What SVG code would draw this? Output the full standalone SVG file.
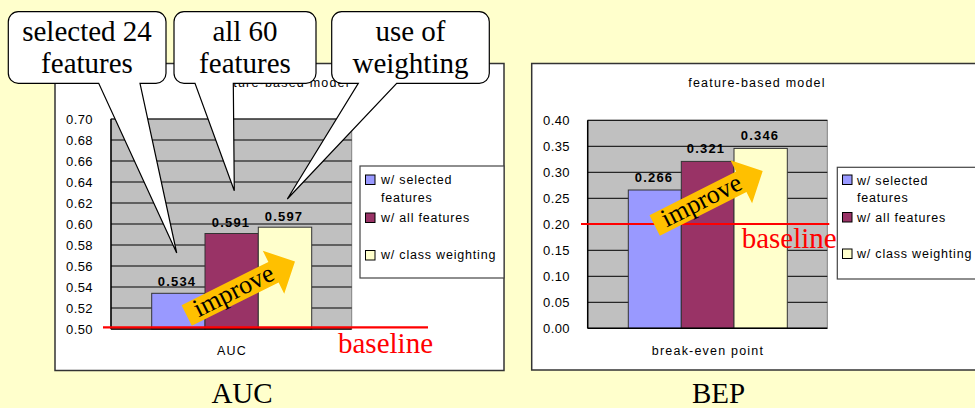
<svg xmlns="http://www.w3.org/2000/svg" width="975" height="408" viewBox="0 0 975 408">
<defs>
<style>
.frame{fill:#fff;stroke:#333;stroke-width:1.5}
.plot{fill:#c0c0c0;stroke:#808080;stroke-width:1}
.grid{stroke:#000;stroke-width:1}
.axis{stroke:#000;stroke-width:1.5}
.bar{stroke:#333;stroke-width:1}
.b1{fill:#9999ff}.b2{fill:#993366}.b3{fill:#ffffcc}
.tick{font-family:"Liberation Sans",Arial,sans-serif;font-size:13px;letter-spacing:0.4px;fill:#000;text-anchor:end}
.val{font-family:"Liberation Sans",Arial,sans-serif;font-size:13px;font-weight:bold;letter-spacing:1.2px;fill:#000;text-anchor:middle}
.lbl{font-family:"Liberation Sans",Arial,sans-serif;font-size:12.5px;letter-spacing:1.2px;fill:#000;text-anchor:middle}
.leg{font-family:"Liberation Sans",Arial,sans-serif;font-size:12.5px;letter-spacing:0.8px;fill:#000}
.legbox{fill:#fff;stroke:#444;stroke-width:1.2}
.sw{stroke:#000;stroke-width:1}
.base{stroke:#ff0000;stroke-width:2.2}
.basetxt{font-family:"Liberation Serif","Times New Roman",serif;font-size:29px;fill:#ff0000}
.big{font-family:"Liberation Serif","Times New Roman",serif;font-size:29px;fill:#000;text-anchor:middle}
.callout{fill:#fff;stroke:#000;stroke-width:1.2}
.arrow{fill:#ffc000}
.imp{font-family:"Liberation Serif","Times New Roman",serif;font-size:26px;fill:#000;text-anchor:middle}
</style>
<path id="arrowShape" d="M0,-11.5 L97,-11.5 L97,-24 L121,0 L97,24 L97,11.5 L0,11.5 Z"/>
</defs>
<rect x="0" y="0" width="975" height="408" fill="#ffffcc"/>

<g id="auc-chart">
<rect class="frame" x="55" y="63.5" width="449" height="307"/>
<text class="lbl" x="281" y="87">feature-based model</text>
<rect class="plot" x="111" y="119" width="240.7" height="210"/>
<g class="grid">
<line x1="111" y1="308" x2="351.7" y2="308"/><line x1="111" y1="287" x2="351.7" y2="287"/>
<line x1="111" y1="266" x2="351.7" y2="266"/><line x1="111" y1="245" x2="351.7" y2="245"/>
<line x1="111" y1="224" x2="351.7" y2="224"/><line x1="111" y1="203" x2="351.7" y2="203"/>
<line x1="111" y1="182" x2="351.7" y2="182"/><line x1="111" y1="161" x2="351.7" y2="161"/>
<line x1="111" y1="140" x2="351.7" y2="140"/><line x1="111" y1="119" x2="351.7" y2="119"/>
</g>
<rect class="bar b1" x="151.7" y="293.3" width="53.3" height="35.7"/>
<rect class="bar b2" x="205" y="233.5" width="53.3" height="95.5"/>
<rect class="bar b3" x="258.3" y="227.2" width="53.4" height="101.8"/>
<line class="axis" x1="111" y1="119" x2="111" y2="329"/>
<line class="axis" x1="111" y1="329" x2="351.7" y2="329"/>
<g>
<text class="tick" x="93" y="333.5">0.50</text><text class="tick" x="93" y="312.5">0.52</text>
<text class="tick" x="93" y="291.5">0.54</text><text class="tick" x="93" y="270.5">0.56</text>
<text class="tick" x="93" y="249.5">0.58</text><text class="tick" x="93" y="228.5">0.60</text>
<text class="tick" x="93" y="207.5">0.62</text><text class="tick" x="93" y="186.5">0.64</text>
<text class="tick" x="93" y="165.5">0.66</text><text class="tick" x="93" y="144.5">0.68</text>
<text class="tick" x="93" y="123.5">0.70</text>
</g>
<text class="val" x="177" y="286">0.534</text>
<text class="val" x="231" y="227">0.591</text>
<text class="val" x="284" y="221">0.597</text>
<text class="lbl" x="232" y="354.5">AUC</text>
<g id="auc-legend">
<rect class="legbox" x="360" y="166" width="144" height="112"/>
<rect class="sw b1" x="365.5" y="175" width="9.5" height="9.5"/>
<text class="leg" x="381" y="184">w/ selected</text>
<text class="leg" x="381" y="201.5">features</text>
<rect class="sw b2" x="365.5" y="213" width="9.5" height="9.5"/>
<text class="leg" x="381" y="221.5">w/ all features</text>
<rect class="sw b3" x="365.5" y="250.5" width="9.5" height="9.5"/>
<text class="leg" x="381" y="259">w/ class weighting</text>
</g>
<line class="base" x1="103" y1="327.3" x2="428" y2="327.3"/>
<text class="basetxt" x="338" y="353">baseline</text>
<text class="big" x="242" y="403">AUC</text>
</g>

<g id="bep-chart">
<rect class="frame" x="531.7" y="63.5" width="460" height="306.5"/>
<text class="lbl" x="757" y="87">feature-based model</text>
<rect class="plot" x="587.7" y="120.3" width="239.6" height="208"/>
<g class="grid">
<line x1="587.7" y1="302.3" x2="827.3" y2="302.3"/><line x1="587.7" y1="276.3" x2="827.3" y2="276.3"/>
<line x1="587.7" y1="250.3" x2="827.3" y2="250.3"/><line x1="587.7" y1="224.3" x2="827.3" y2="224.3"/>
<line x1="587.7" y1="198.3" x2="827.3" y2="198.3"/><line x1="587.7" y1="172.3" x2="827.3" y2="172.3"/>
<line x1="587.7" y1="146.3" x2="827.3" y2="146.3"/><line x1="587.7" y1="120.3" x2="827.3" y2="120.3"/>
</g>
<rect class="bar b1" x="628.3" y="190" width="53" height="138.3"/>
<rect class="bar b2" x="681.3" y="161.4" width="52.7" height="166.9"/>
<rect class="bar b3" x="734" y="148.4" width="53.3" height="179.9"/>
<line class="axis" x1="587.7" y1="120.3" x2="587.7" y2="328.3"/>
<line class="axis" x1="587.7" y1="328.3" x2="827.3" y2="328.3"/>
<g>
<text class="tick" x="570" y="332.8">0.00</text><text class="tick" x="570" y="306.8">0.05</text>
<text class="tick" x="570" y="280.8">0.10</text><text class="tick" x="570" y="254.8">0.15</text>
<text class="tick" x="570" y="228.8">0.20</text><text class="tick" x="570" y="202.8">0.25</text>
<text class="tick" x="570" y="176.8">0.30</text><text class="tick" x="570" y="150.8">0.35</text>
<text class="tick" x="570" y="124.8">0.40</text>
</g>
<text class="val" x="654" y="182">0.266</text>
<text class="val" x="706" y="153">0.321</text>
<text class="val" x="760" y="139.5">0.346</text>
<text class="lbl" x="708" y="354.5">break-even point</text>
<g id="bep-legend">
<rect class="legbox" x="837.3" y="167.3" width="160" height="111.7"/>
<rect class="sw b1" x="842.5" y="175" width="9.5" height="9.5"/>
<text class="leg" x="857" y="184.5">w/ selected</text>
<text class="leg" x="857" y="201.5">features</text>
<rect class="sw b2" x="842.5" y="212.5" width="9.5" height="9.5"/>
<text class="leg" x="857" y="221.5">w/ all features</text>
<rect class="sw b3" x="842.5" y="249" width="9.5" height="9.5"/>
<text class="leg" x="857" y="258">w/ class weighting</text>
</g>
<line class="base" x1="581" y1="224" x2="829.3" y2="224"/>
<text class="basetxt" x="741.7" y="248.3">baseline</text>
<text class="big" x="718.5" y="403">BEP</text>
</g>

<g id="improve-arrows">
<g id="improve-auc" transform="translate(186.7,315.5) rotate(-26.5)">
<use href="#arrowShape" class="arrow"/>
<text class="imp" x="53" y="7">improve</text>
</g>
<g id="improve-bep" transform="translate(654.7,225.5) rotate(-26.8)">
<use href="#arrowShape" class="arrow"/>
<text class="imp" x="53" y="7">improve</text>
</g>
</g>

<g id="callouts">
<g id="callout-selected">
<path class="callout" d="M18.3,11.7 H156 A10,10 0 0 1 166,21.7 V73.3 A10,10 0 0 1 156,83.3 H140 L176.7,253 L98.7,83.3 H18.3 A10,10 0 0 1 8.3,73.3 V21.7 A10,10 0 0 1 18.3,11.7 Z"/>
<text class="big" x="87" y="41">selected 24</text>
<text class="big" x="87" y="72.7">features</text>
</g>
<g id="callout-all">
<path class="callout" d="M184,11.7 H306 A10,10 0 0 1 316,21.7 V73.3 A10,10 0 0 1 306,83.3 H233.3 L234.3,190.7 L195,83.3 H184 A10,10 0 0 1 174,73.3 V21.7 A10,10 0 0 1 184,11.7 Z"/>
<text class="big" x="245" y="41">all 60</text>
<text class="big" x="245" y="72.7">features</text>
</g>
<g id="callout-weighting">
<path class="callout" d="M341.7,11.7 H479.3 A10,10 0 0 1 489.3,21.7 V73.3 A10,10 0 0 1 479.3,83.3 H396.7 L287.3,199 L358.3,83.3 H341.7 A10,10 0 0 1 331.7,73.3 V21.7 A10,10 0 0 1 341.7,11.7 Z"/>
<text class="big" x="410.5" y="41">use of</text>
<text class="big" x="410.5" y="72.7">weighting</text>
</g>
</g>
</svg>
